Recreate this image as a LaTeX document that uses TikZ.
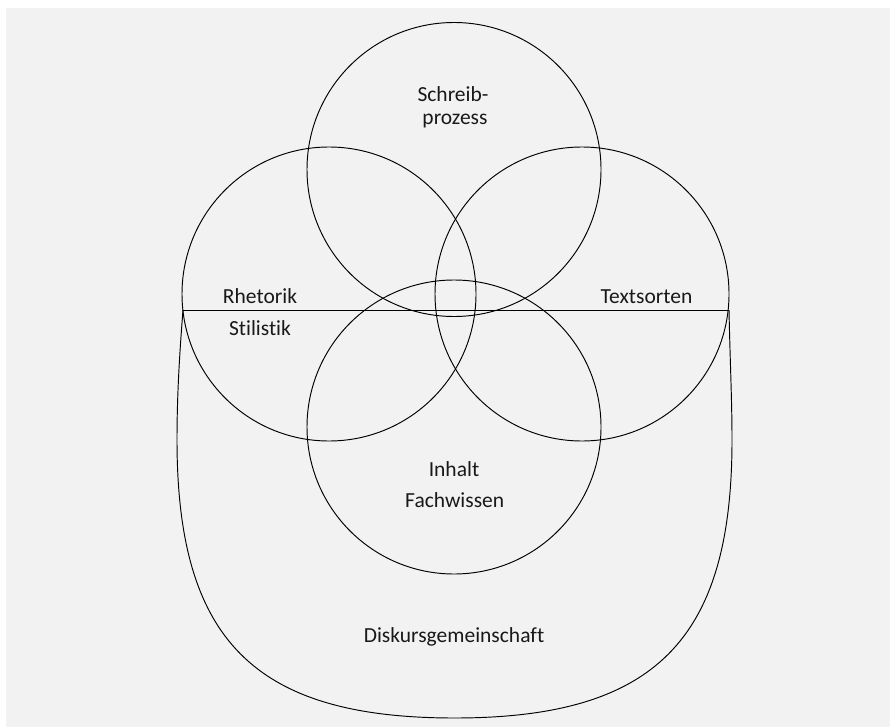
\documentclass[tikz,border=0pt]{standalone}
\usepackage{fontspec}
\setmainfont{Carlito}[Ligatures=NoCommon]
\definecolor{panel}{HTML}{F2F2F2}
\begin{document}
\begin{tikzpicture}[x=1pt,y=-1pt,
  ring/.style={draw=black,line width=0.95pt,circle,minimum size=294pt,inner sep=0pt},
  lbl/.style={anchor=base,inner sep=0pt,font=\fontsize{21.5}{25}\selectfont,text=black!90},
  outline/.style={draw=black,line width=0.95pt}]
\useasboundingbox (0,0) rectangle (890,727);
\fill[white] (0,0) rectangle (890,727);
\fill[panel] (6,8) rectangle (890,727);
% circles
\node[ring] (top) at (454,169.5) {};
\node[ring] (left) at (329,294) {};
\node[ring] (right) at (582,294) {};
\node[ring] (bottom) at (454,427) {};
% horizontal line and outer shape
\coordinate (L) at (183,310);
\coordinate (R) at (729,310);
\draw[outline] (L) -- (R);
\draw[outline] (L) .. controls (179,360) and (177,400) .. (177,440)
  .. controls (177,640) and (254,718) .. (454.5,718)
  .. controls (655,718) and (732,640) .. (732,440)
  .. controls (732,400) and (730,360) .. (R);
% labels
\node[lbl] (t1) at (453,101.5) {Schreib-};
\node[lbl] (t2) at (455,125) {prozess};
\node[lbl] (rh) at (260,303.3) {Rhetorik};
\node[lbl] (st) at (260,335) {Stilistik};
\node[lbl] (ts) at (646.5,303.3) {Textsorten};
\node[lbl] (in) at (454,476.7) {Inhalt};
\node[lbl] (fw) at (454.7,507) {Fachwissen};
\node[lbl] (dk) at (454,642) {Diskursgemeinschaft};
\end{tikzpicture}
\end{document}
